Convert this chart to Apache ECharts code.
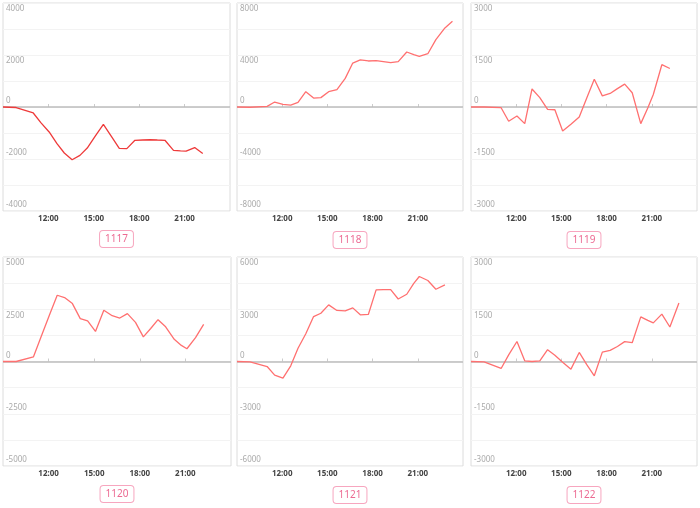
<!DOCTYPE html>
<html>
<head>
<meta charset="utf-8">
<script src="https://cdn.jsdelivr.net/npm/echarts@6/dist/echarts.min.js"></script>
<style>
html,body{margin:0;padding:0;background:#fff;}
#c{width:700px;height:508px;}
</style>
</head>
<body>
<div id="c"></div>
<script>
// shared sample times
const times = ['09:00','09:52','11:00','11:30','12:03','12:34','13:03','13:34','14:05','14:34','15:05','15:38','16:11','16:41','17:11','17:43','18:14','18:43','19:12','19:42','20:16','20:44','21:06','21:40','22:12','22:48','23:18'];
const xTickHours = [9, 24, 3];
// panel names
const names = ['1117','1118','1119','1120','1121','1122'];
// series values
const v1117 = [0,-20,-230,-600,-960,-1410,-1770,-2030,-1860,-1580,-1130,-670,-1150,-1590,-1600,-1280,-1270,-1260,-1270,-1280,-1670,-1690,-1700,-1560,-1790];
const v1118 = [0,-20,50,380,200,150,360,1180,690,720,1180,1330,2200,3380,3620,3540,3560,3490,3410,3490,4230,4030,3900,4100,5180,6080,6590];
const v1119 = [0,0,-20,-410,-260,-480,520,270,-70,-80,-690,-500,-290,260,800,320,390,530,660,410,-480,-30,360,1220,1110];
const v1120 = [0,0,220,1170,2210,3170,3060,2770,2050,1940,1440,2450,2190,2080,2290,1870,1180,1580,2000,1660,1060,770,610,1140,1780];
const v1121 = [0,-20,-290,-780,-960,-250,760,1590,2580,2770,3250,2930,2910,3080,2680,2700,4110,4130,4130,3590,3860,4490,4880,4650,4150,4400];
const v1122 = [0,-10,-200,190,575,20,0,20,340,180,-20,-220,260,-90,-410,270,320,430,570,540,1280,1180,1110,1360,990,1680];
// y axis limits and label steps
const yMax = [4000, 8000, 3000, 5000, 6000, 3000];
const yLabelStep = [2000, 4000, 1500, 2500, 3000, 1500];

const values = [v1117, v1118, v1119, v1120, v1121, v1122];
const lineColors = ['#ee3a3a','#ff7070','#ff7070','#ff7070','#ff7070','#ff7070'];

const boxes = [
  {left:3, top:3, width:227, height:208},
  {left:237, top:3, width:226, height:208},
  {left:471, top:3, width:226, height:208},
  {left:3, top:257, width:228, height:209},
  {left:237, top:257, width:226, height:209},
  {left:471, top:257, width:226, height:209}
];
const titleY = [239, 240, 240, 494, 495, 495];

function toH(t){ const p = t.split(':'); return +p[0] + (+p[1])/60; }

const grid = [], xAxis = [], yAxis = [], series = [], graphic = [];
boxes.forEach((b, i) => {
  grid.push(Object.assign({show:true, borderColor:'#dcdcdc', borderWidth:1, backgroundColor:'#fff'}, b));
  xAxis.push({
    type:'value', gridIndex:i, min:xTickHours[0], max:xTickHours[1], interval:xTickHours[2],
    axisLine:{show:false},
    axisTick:{show:true, inside:true, length:3, lineStyle:{color:'#ccc'}},
    splitLine:{show:false},
    axisLabel:{
      showMinLabel:false, showMaxLabel:false, margin:4,
      fontSize:8, fontWeight:'bold', color:'#444', fontFamily:'Noto Sans',
      formatter: v => (v === 9 || v === 24) ? '' : (v + ':00')
    }
  });
  const step = yLabelStep[i];
  yAxis.push({
    type:'value', gridIndex:i, min:-yMax[i], max:yMax[i], interval:step/2,
    axisLine:{show:false}, axisTick:{show:false},
    splitLine:{show:true, lineStyle:{color:'#f3f3f3', width:1}},
    axisLabel:{
      inside:true, margin:3, fontSize:8, color:'#aaa', fontFamily:'Noto Sans',
      formatter: v => {
        if (Math.round(v) % step !== 0) return '';
        return v > 0 ? '{up|' + v + '}' : '{dn|' + v + '}';
      },
      rich:{
        up:{fontSize:8, color:'#aaa', padding:[12,0,0,0]},
        dn:{fontSize:8, color:'#aaa', padding:[0,0,12,0]}
      }
    }
  });
  series.push({
    type:'line', xAxisIndex:i, yAxisIndex:i,
    data: values[i].map((v, k) => [toH(times[k]), v]),
    showSymbol:false, symbol:'none',
    lineStyle:{color:lineColors[i], width:1.3},
    itemStyle:{color:lineColors[i]},
    markLine:{
      silent:true, symbol:'none', label:{show:false},
      lineStyle:{color:'#bcbcbc', width:1.5, type:'solid'},
      data:[{yAxis:0}], z:1
    },
    z:3
  });
  graphic.push({
    type:'text', x: b.left + b.width/2, y: titleY[i], z:10,
    style:{
      text:names[i], align:'center', verticalAlign:'middle',
      fill:'#ec6a92', fontSize:10, fontFamily:'Noto Sans',
      borderColor:'#f7a6bf', borderWidth:1, borderRadius:3,
      padding:[3,5,3,5], backgroundColor:'#fff'
    }
  });
});

const chart = echarts.init(document.getElementById('c'), null, {renderer:'canvas'});
chart.setOption({animation:false, grid, xAxis, yAxis, series, graphic});
</script>
</body>
</html>
